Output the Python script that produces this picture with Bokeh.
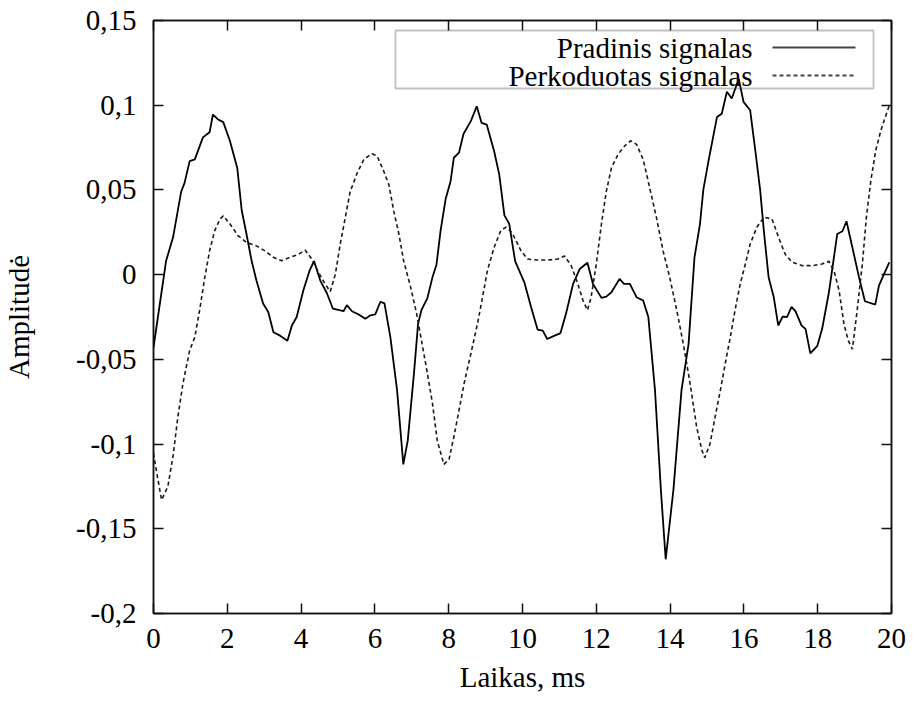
from bokeh.plotting import figure
from bokeh.models import Range1d, FixedTicker, LinearAxis, Label, BoxAnnotation, Arrow
from bokeh.embed import file_html
from bokeh.resources import INLINE

# ---- data ----
t_pradinis = [0.00, 0.12, 0.34, 0.53, 0.75, 0.84, 0.98, 1.12, 1.34, 1.52, 1.61, 1.75, 1.89, 2.07,
              2.27, 2.39, 2.52, 2.66, 2.79, 2.97, 3.11, 3.25, 3.43, 3.63, 3.75, 3.88, 4.06, 4.23,
              4.35, 4.52, 4.70, 4.86, 5.04, 5.15, 5.24, 5.38, 5.56, 5.74, 5.88, 6.01, 6.15, 6.26,
              6.42, 6.60, 6.77, 6.89, 7.06, 7.17, 7.26, 7.42, 7.56, 7.67, 7.78, 7.92, 8.05, 8.14,
              8.28, 8.40, 8.60, 8.76, 8.89, 9.03, 9.23, 9.37, 9.51, 9.64, 9.80, 10.05, 10.23, 10.41,
              10.55, 10.67, 10.87, 11.03, 11.18, 11.37, 11.55, 11.76, 11.91, 12.14, 12.27, 12.41,
              12.63, 12.75, 12.91, 13.09, 13.27, 13.41, 13.59, 13.75, 13.88, 14.09, 14.31, 14.50,
              14.66, 14.81, 14.90, 15.04, 15.27, 15.40, 15.54, 15.67, 15.86, 15.99, 16.17, 16.31,
              16.44, 16.54, 16.67, 16.81, 16.93, 17.05, 17.17, 17.29, 17.40, 17.56, 17.67, 17.80,
              17.99, 18.12, 18.30, 18.53, 18.67, 18.78, 18.94, 19.12, 19.28, 19.56, 19.66, 19.80,
              19.94]
v_pradinis = [-0.043, -0.025, 0.008, 0.022, 0.049, 0.054, 0.067, 0.068, 0.081, 0.084, 0.0945, 0.0916,
              0.090, 0.079, 0.063, 0.038, 0.024, 0.008, -0.0035, -0.017, -0.022, -0.034, -0.036,
              -0.039, -0.030, -0.025, -0.0094, 0.0024, 0.008, -0.0035, -0.011, -0.020, -0.021,
              -0.0216, -0.018, -0.0216, -0.0235, -0.026, -0.024, -0.0235, -0.016, -0.017, -0.037,
              -0.068, -0.112, -0.098, -0.058, -0.029, -0.021, -0.014, -0.0016, 0.006, 0.026, 0.045,
              0.055, 0.069, 0.072, 0.083, 0.0906, 0.0994, 0.0896, 0.0886, 0.073, 0.059, 0.035,
              0.030, 0.008, -0.0045, -0.019, -0.0325, -0.033, -0.038, -0.036, -0.0345, -0.023,
              -0.0055, 0.0033, 0.007, -0.0055, -0.0137, -0.013, -0.0104, -0.0025, -0.0055, -0.0055,
              -0.0133, -0.0153, -0.025, -0.068, -0.127, -0.168, -0.127, -0.068, -0.041, 0.010,
              0.030, 0.050, 0.067, 0.093, 0.095, 0.108, 0.104, 0.1155, 0.102, 0.097, 0.073, 0.050,
              0.026, -0.0016, -0.0134, -0.030, -0.0248, -0.025, -0.019, -0.0217, -0.030, -0.032,
              -0.0465, -0.042, -0.032, -0.011, 0.024, 0.0256, 0.0315, 0.016, -0.0016, -0.0157,
              -0.0177, -0.0065, 0.0004, 0.0073]

t_perkoduotas = [0.00, 0.12, 0.22, 0.39, 0.53, 0.66, 0.80, 0.98, 1.12, 1.25, 1.39, 1.52, 1.66, 1.80,
                 1.89, 2.07, 2.29, 2.52, 2.79, 3.02, 3.25, 3.47, 3.70, 3.93, 4.11, 4.29, 4.47, 4.65,
                 4.79, 4.93, 5.06, 5.20, 5.33, 5.52, 5.70, 5.92, 6.06, 6.24, 6.38, 6.51, 6.65, 6.78,
                 6.97, 7.13, 7.28, 7.42, 7.56, 7.69, 7.87, 8.01, 8.14, 8.28, 8.42, 8.60, 8.78, 8.92,
                 9.05, 9.23, 9.41, 9.55, 9.71, 9.87, 9.96, 10.14, 10.41, 10.69, 10.96, 11.14, 11.32,
                 11.50, 11.64, 11.76, 11.86, 12.00, 12.14, 12.27, 12.41, 12.59, 12.77, 12.93, 13.09,
                 13.27, 13.45, 13.63, 13.81, 13.99, 14.18, 14.36, 14.54, 14.72, 14.86, 14.94, 15.08,
                 15.22, 15.36, 15.49, 15.63, 15.76, 15.90, 16.04, 16.17, 16.35, 16.54, 16.76, 16.94,
                 17.12, 17.31, 17.58, 17.85, 18.12, 18.30, 18.44, 18.58, 18.71, 18.83, 18.94, 19.07,
                 19.21, 19.32, 19.44, 19.57, 19.71, 19.80, 19.94]
v_perkoduotas = [-0.1055, -0.121, -0.133, -0.125, -0.107, -0.084, -0.064, -0.0447, -0.0369, -0.021,
                 -0.0016, 0.014, 0.026, 0.0327, 0.0347, 0.030, 0.023, 0.019, 0.017, 0.014, 0.0102,
                 0.0082, 0.0102, 0.012, 0.0145, 0.0092, 0.0014, -0.0055, -0.0100, 0.0004, 0.018,
                 0.034, 0.049, 0.060, 0.068, 0.0714, 0.070, 0.061, 0.053, 0.0376, 0.024, 0.008,
                 -0.0075, -0.023, -0.041, -0.058, -0.076, -0.098, -0.112, -0.109, -0.0957, -0.080,
                 -0.064, -0.0467, -0.029, -0.013, 0.0024, 0.016, 0.026, 0.028, 0.025, 0.018, 0.014,
                 0.0092, 0.0086, 0.0086, 0.0092, 0.011, 0.0053, -0.0055, -0.0153, -0.021, -0.0133,
                 0.0063, 0.030, 0.049, 0.063, 0.071, 0.076, 0.079, 0.0769, 0.068, 0.051, 0.0337,
                 0.014, -0.0016, -0.021, -0.041, -0.064, -0.090, -0.1035, -0.108, -0.100, -0.084,
                 -0.0685, -0.053, -0.037, -0.021, -0.0055, 0.0063, 0.018, 0.028, 0.0339, 0.0329,
                 0.022, 0.012, 0.0073, 0.0053, 0.0053, 0.0063, 0.0079, 0.0024, -0.0094, -0.029,
                 -0.039, -0.044, -0.021, 0.0063, 0.034, 0.0555, 0.073, 0.085, 0.091, 0.0998]

x_ticks = [0, 2, 4, 6, 8, 10, 12, 14, 16, 18, 20]
x_tick_labels = ["0", "2", "4", "6", "8", "10", "12", "14", "16", "18", "20"]
y_ticks = [-0.2, -0.15, -0.1, -0.05, 0.0, 0.05, 0.1, 0.15]
y_tick_labels = ["-0,2", "-0,15", "-0,1", "-0,05", "0", "0,05", "0,1", "0,15"]
series_names = ["Pradinis signalas", "Perkoduotas signalas"]
x_title = "Laikas, ms"
y_title = "Amplitudė"

FONT = "Liberation Serif"
FS = "29px"
INK = "#111111"

p = figure(frame_width=738, frame_height=593,
           min_border_left=153, min_border_right=25, min_border_top=20, min_border_bottom=89,
           x_range=Range1d(0, 20), y_range=Range1d(-0.2, 0.15),
           output_backend="svg", toolbar_location=None,
           background_fill_color="white", border_fill_color="white")
p.grid.visible = False
p.outline_line_color = INK
p.outline_line_width = 1.5

p.line(t_pradinis, v_pradinis, line_color="#000000", line_width=1.8)
p.line(t_perkoduotas, v_perkoduotas, line_color="#1a1a1a", line_width=1.6, line_dash="4 3")


def style_axis(ax, ticks, labels, show_labels=True):
    ax.ticker = FixedTicker(ticks=ticks)
    ax.axis_line_color = INK
    ax.axis_line_width = 1.5
    ax.major_tick_line_color = INK
    ax.major_tick_line_width = 1.5
    ax.major_tick_in = 10
    ax.major_tick_out = 0
    ax.minor_tick_line_color = None
    if show_labels:
        ax.major_label_overrides = {t: l for t, l in zip(ticks, labels)}
        ax.major_label_text_font = FONT
        ax.major_label_text_font_size = FS
        ax.major_label_text_color = "#000000"
        ax.axis_label_text_font = FONT
        ax.axis_label_text_font_size = FS
        ax.axis_label_text_font_style = "normal"
        ax.axis_label_text_color = "#000000"
    else:
        ax.major_label_text_color = None
        ax.major_label_text_font_size = "0px"
        ax.major_label_standoff = 0
        ax.axis_label = None


xa = p.xaxis[0]
ya = p.yaxis[0]
style_axis(xa, x_ticks, x_tick_labels)
style_axis(ya, y_ticks, y_tick_labels)
xa.axis_label = x_title
ya.axis_label = y_title
xa.major_label_standoff = 15
xa.axis_label_standoff = 10
ya.major_label_standoff = 17
ya.axis_label_standoff = 38

top_ax = LinearAxis()
right_ax = LinearAxis()
style_axis(top_ax, x_ticks, x_tick_labels, show_labels=False)
style_axis(right_ax, y_ticks, y_tick_labels, show_labels=False)
p.add_layout(top_ax, "above")
p.add_layout(right_ax, "right")

# ---- gnuplot-style legend (text right-aligned, sample on the right) ----
p.add_layout(BoxAnnotation(left=242, right=720, top=583, bottom=525,
                           left_units="screen", right_units="screen",
                           top_units="screen", bottom_units="screen",
                           fill_alpha=0, line_color="#333333", line_width=1.8))
rows_y = [566, 538]
dashes = ["solid", "4 3"]
for name, ry, dash in zip(series_names, rows_y, dashes):
    p.add_layout(Label(x=599, y=ry, x_units="screen", y_units="screen", text=name,
                       text_align="right", text_baseline="middle",
                       text_font=FONT, text_font_size=FS, text_color="#000000"))
    p.add_layout(Arrow(end=None, x_start=619, y_start=ry, x_end=702, y_end=ry,
                       start_units="screen", end_units="screen",
                       line_color="#444444", line_width=1.8, line_dash=dash))

open("out.html", "w").write(file_html(p, INLINE))
